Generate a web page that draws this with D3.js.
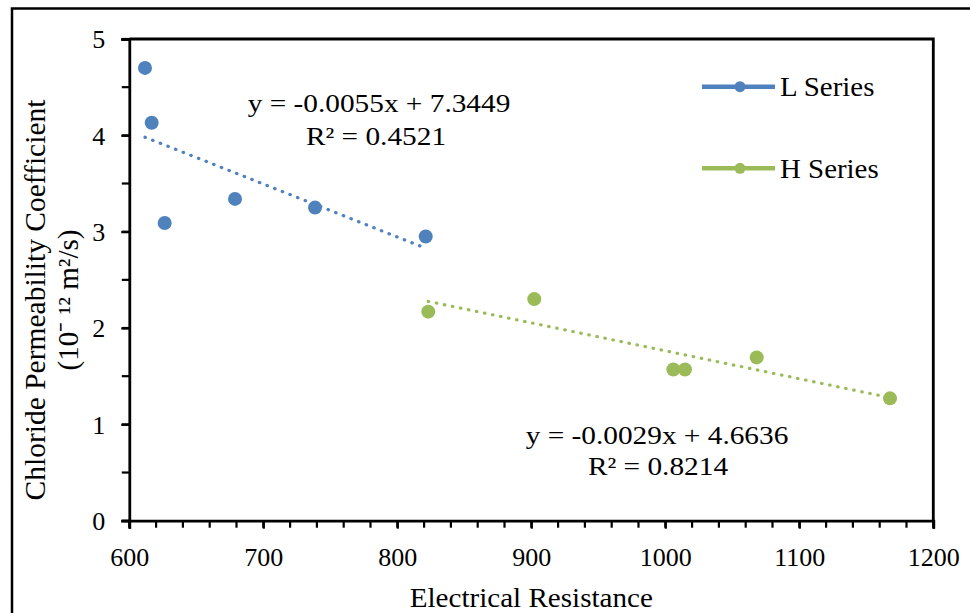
<!DOCTYPE html>
<html>
<head>
<meta charset="utf-8">
<script src="https://cdn.jsdelivr.net/npm/d3@7"></script>
<style>
  html, body { margin: 0; padding: 0; background: #fff; }
  svg { display: block; font-family: "Liberation Serif", "Times New Roman", serif; }
</style>
</head>
<body>
<svg id="chart" width="970" height="613"></svg>
<script>
// L series: electrical resistance vs chloride permeability coefficient
const lSeriesX = [611.7, 616.7, 626.4, 678.9, 738.6, 821.2];
const lSeriesY = [4.70, 4.13, 3.09, 3.34, 3.25, 2.95];
// H series
const hSeriesX = [823.1, 902.2, 1006.0, 1014.7, 1068.2, 1167.7];
const hSeriesY = [2.17, 2.30, 1.57, 1.57, 1.695, 1.27];

// Linear trend lines (slope, intercept, R²)
const lTrend = { slope: -0.0055, intercept: 7.3449, r2: "0.4521" };
const hTrend = { slope: -0.0029, intercept: 4.6636, r2: "0.8214" };

const seriesNames = ["L Series", "H Series"];
const seriesColors = ["#4F81BD", "#9BBB59"];

const xTicks = [600, 700, 800, 900, 1000, 1100, 1200];
const yTicks = [0, 1, 2, 3, 4, 5];

const svg = d3.select("#chart");

const x = d3.scaleLinear().domain([600, 1200]).range([129.3, 933.3]);
const y = d3.scaleLinear().domain([0, 5]).range([520.7, 39]);

// outer border (left and top edges visible)
svg.append("path")
  .attr("d", "M12,613 L12,8.5 L970,8.5")
  .attr("fill", "none").attr("stroke", "#000").attr("stroke-width", 2.5);

// plot frame: top and right edges
svg.append("path")
  .attr("d", `M${x(600)},${y(5)} L${x(1200)},${y(5)} L${x(1200)},${y(0)}`)
  .attr("fill", "none").attr("stroke", "#000").attr("stroke-width", 2.8);

// minor ticks
const minorX = d3.range(600, 1201, 20);
const minorY = d3.range(0, 5.01, 0.5);
svg.append("g").selectAll("line").data(minorX).join("line")
  .attr("x1", d => x(d)).attr("x2", d => x(d))
  .attr("y1", y(0)).attr("y2", y(0) + 7)
  .attr("stroke", "#000").attr("stroke-width", 2.2);
svg.append("g").selectAll("line").data(minorY).join("line")
  .attr("x1", x(600) - 7.5).attr("x2", x(600))
  .attr("y1", d => y(d)).attr("y2", d => y(d))
  .attr("stroke", "#000").attr("stroke-width", 2.2);

// axes
const xAxis = svg.append("g")
  .attr("transform", `translate(0,${y(0)})`)
  .call(d3.axisBottom(x).tickValues(xTicks).tickSize(8).tickPadding(20).tickFormat(d3.format("d")));
const yAxis = svg.append("g")
  .attr("transform", `translate(${x(600)},0)`)
  .call(d3.axisLeft(y).tickValues(yTicks).tickSize(8).tickPadding(18).tickFormat(d3.format("d")));

[xAxis, yAxis].forEach(a => {
  a.select(".domain").attr("stroke", "#000").attr("stroke-width", 2.8);
  a.selectAll(".tick line").attr("stroke", "#000").attr("stroke-width", 2.2);
  a.selectAll(".tick text")
    .attr("fill", "#000")
    .style("font-family", "'Liberation Serif', 'Times New Roman', serif")
    .style("font-size", "26px");
});
xAxis.selectAll(".tick text").attr("dy", "0.71em").attr("y", 27);
yAxis.selectAll(".tick text").attr("dy", "0.34em").attr("x", -24);

// text helper with slight horizontal stretch
function label(x0, y0, s, size, anchor, sx) {
  svg.append("text")
    .attr("transform", `translate(${x0},${y0}) scale(${sx},1)`)
    .attr("text-anchor", anchor)
    .attr("fill", "#000")
    .style("font-size", size + "px")
    .text(s);
}

// axis titles
label((x(600) + x(1200)) / 2, 607, "Electrical Resistance", 28, "middle", 1.04);

const yTitle = svg.append("g").attr("transform", "translate(45,300) rotate(-90)");
yTitle.append("text").attr("text-anchor", "middle").attr("fill", "#000")
  .style("font-size", "29.5px").text("Chloride Permeability Coefficient");
yTitle.append("text").attr("text-anchor", "middle").attr("fill", "#000")
  .attr("y", 33)
  .style("font-size", "29px").text("(10\u207B \u00B9\u00B2 m\u00B2/s)");

// trend lines
function trend(xs, t, color) {
  const ext = d3.extent(xs);
  svg.append("line")
    .attr("x1", x(ext[0])).attr("y1", y(t.slope * ext[0] + t.intercept))
    .attr("x2", x(ext[1])).attr("y2", y(t.slope * ext[1] + t.intercept))
    .attr("stroke", color).attr("stroke-width", 3.2)
    .attr("stroke-linecap", "round")
    .attr("stroke-dasharray", "0.5,7.7");
}
trend(lSeriesX, lTrend, seriesColors[0]);
trend(hSeriesX, hTrend, seriesColors[1]);

// points
function points(xs, ys, color) {
  svg.append("g").selectAll("circle").data(xs).join("circle")
    .attr("cx", d => x(d)).attr("cy", (d, i) => y(ys[i]))
    .attr("r", 7).attr("fill", color);
}
points(lSeriesX, lSeriesY, seriesColors[0]);
points(hSeriesX, hSeriesY, seriesColors[1]);

// equations
function fmtEq(t) {
  return `y = ${t.slope.toFixed(4)}x + ${t.intercept.toFixed(4)}`;
}
label(379, 111.5, fmtEq(lTrend), 25.5, "middle", 1.15);
label(376, 145, `R\u00B2 = ${lTrend.r2}`, 25.5, "middle", 1.15);
label(657, 443.5, fmtEq(hTrend), 25.5, "middle", 1.15);
label(658, 475, `R\u00B2 = ${hTrend.r2}`, 25.5, "middle", 1.15);

// legend
const legendY = [86.7, 168.3];
seriesNames.forEach((name, i) => {
  const g = svg.append("g");
  g.append("line").attr("x1", 702).attr("x2", 775)
    .attr("y1", legendY[i]).attr("y2", legendY[i])
    .attr("stroke", seriesColors[i]).attr("stroke-width", 4.5);
  g.append("circle").attr("cx", 740).attr("cy", legendY[i]).attr("r", 5.5)
    .attr("fill", seriesColors[i]);
  label(780, legendY[i] + 9.5, name, 27, "start", 1.07);
});
</script>
</body>
</html>
